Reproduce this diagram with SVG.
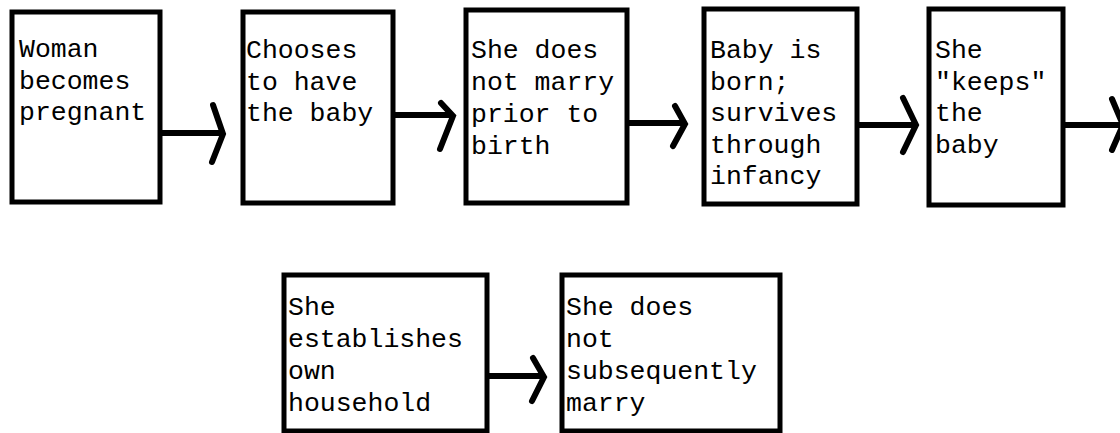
<svg xmlns="http://www.w3.org/2000/svg" width="1120" height="433" viewBox="0 0 1120 433">
<style>
.box{fill:#fff;stroke:#000;stroke-width:5}
.t{font-family:"Liberation Mono","DejaVu Sans Mono",monospace;font-size:26.5px;fill:#000}
.ln{stroke:#000;stroke-width:6;fill:none}
.hd{stroke:#000;stroke-width:6;fill:none;stroke-linecap:round;stroke-linejoin:miter}
</style>
<rect width="1120" height="433" fill="#fff"/>
<g id="connectors">
<line class="ln" x1="161" y1="133" x2="220" y2="133"/>
<polyline class="hd" points="213,105 223,134 212,162"/>
<line class="ln" x1="393" y1="115" x2="450" y2="115"/>
<polyline class="hd" points="441,103 453,116 440,149"/>
<line class="ln" x1="627" y1="123" x2="682" y2="123"/>
<polyline class="hd" points="675,106 685,124 673,146"/>
<line class="ln" x1="857" y1="125" x2="914" y2="125"/>
<polyline class="hd" points="903,98 916,125 903,152"/>
<line class="ln" x1="1063" y1="125" x2="1120" y2="125"/>
<polyline class="hd" points="1112,99 1123,125 1112,150"/>
<line class="ln" x1="487" y1="376" x2="542" y2="376"/>
<polyline class="hd" points="533,358 544,377 532,401"/>
</g>
<g id="n1">
<rect class="box" x="12" y="12" width="148" height="190"/>
<text class="t" x="19" y="57">Woman</text>
<text class="t" x="19" y="88.5">becomes</text>
<text class="t" x="19" y="120">pregnant</text>
</g>
<g id="n2">
<rect class="box" x="243" y="12" width="150" height="191"/>
<text class="t" x="246" y="58">Chooses</text>
<text class="t" x="246" y="89.5">to have</text>
<text class="t" x="246" y="121">the baby</text>
</g>
<g id="n3">
<rect class="box" x="466" y="10" width="161" height="193"/>
<text class="t" x="471" y="58">She does</text>
<text class="t" x="471" y="90">not marry</text>
<text class="t" x="471" y="122">prior to</text>
<text class="t" x="471" y="154">birth</text>
</g>
<g id="n4">
<rect class="box" x="704" y="9" width="153" height="195"/>
<text class="t" x="710" y="58">Baby is</text>
<text class="t" x="710" y="89.5">born;</text>
<text class="t" x="710" y="121">survives</text>
<text class="t" x="710" y="152.5">through</text>
<text class="t" x="710" y="184">infancy</text>
</g>
<g id="n5">
<rect class="box" x="929" y="9" width="134" height="196"/>
<text class="t" x="935" y="58">She</text>
<text class="t" x="935" y="89.5">"keeps"</text>
<text class="t" x="935" y="121">the</text>
<text class="t" x="935" y="152.5">baby</text>
</g>
<g id="n6">
<rect class="box" x="284" y="275" width="203" height="156"/>
<text class="t" x="288" y="315">She</text>
<text class="t" x="288" y="347">establishes</text>
<text class="t" x="288" y="379">own</text>
<text class="t" x="288" y="411">household</text>
</g>
<g id="n7">
<rect class="box" x="562" y="275" width="218" height="156"/>
<text class="t" x="566" y="315">She does</text>
<text class="t" x="566" y="347">not</text>
<text class="t" x="566" y="379">subsequently</text>
<text class="t" x="566" y="411">marry</text>
</g>
</svg>
